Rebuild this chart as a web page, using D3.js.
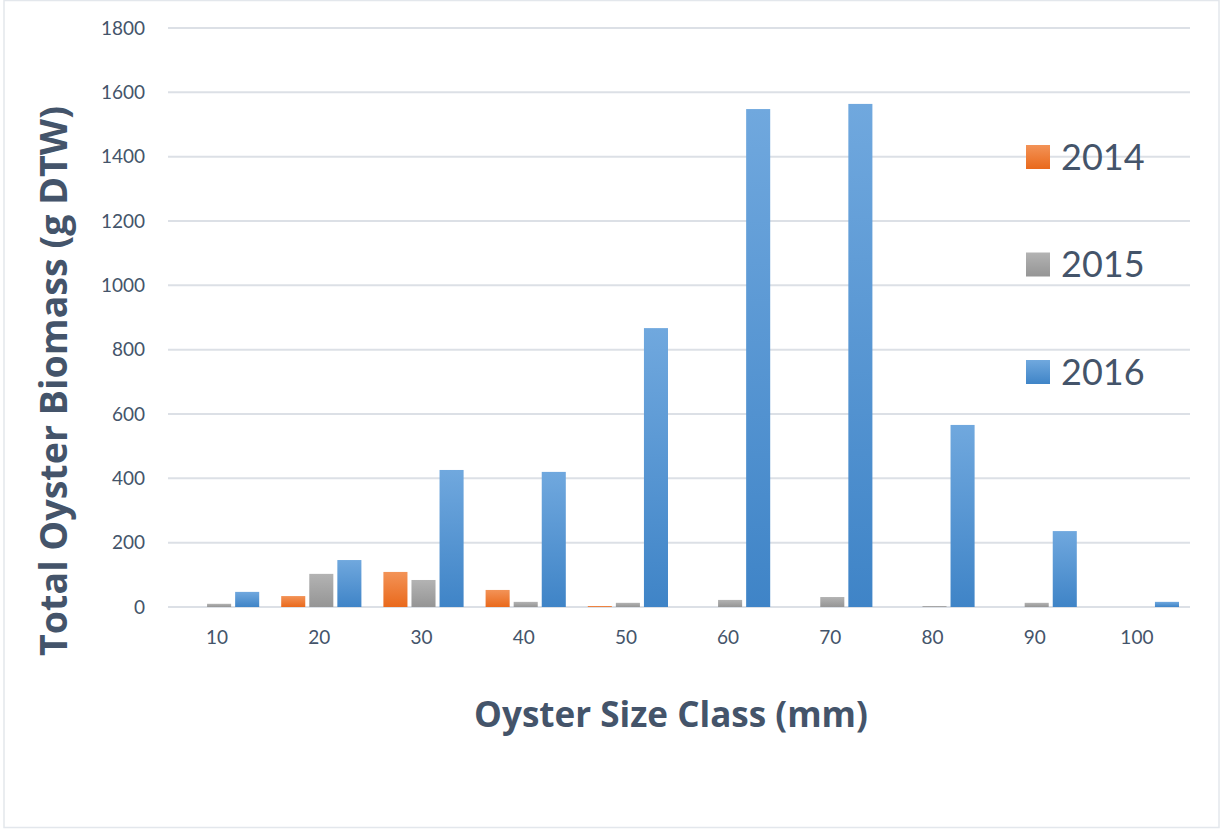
<!DOCTYPE html>
<html>
<head>
<meta charset="utf-8">
<script src="https://cdn.jsdelivr.net/npm/d3@7"></script>
<style>
  html, body { margin: 0; padding: 0; background: #fff; }
  svg { display: block; }
  text { font-family: Lato, "Open Sans", sans-serif; fill: #44546A; }
</style>
</head>
<body>
<svg id="chart" width="1230" height="829"></svg>
<script>
// Oyster size classes (mm)
const sizeClasses = ["10", "20", "30", "40", "50", "60", "70", "80", "90", "100"];
const years = ["2014", "2015", "2016"];
// Total biomass (g DTW) per size class
const biomass2014 = [0, 34, 109, 53, 3, 0, 0, 0, 0, 0];
const biomass2015 = [10, 103, 84, 16, 13, 22, 31, 3, 13, 0];
const biomass2016 = [47, 146, 426, 420, 867, 1548, 1564, 566, 236, 16];
const yTicks = [0, 200, 400, 600, 800, 1000, 1200, 1400, 1600, 1800];

const seriesValues = [biomass2014, biomass2015, biomass2016];
const rows = sizeClasses.map((c, i) => ({
  size: c,
  values: years.map((y, j) => ({ year: y, value: seriesValues[j][i] }))
}));

const svg = d3.select("#chart");
const plot = { left: 168, right: 1190, top: 28, bottom: 607 };

// outer frame
svg.append("rect")
  .attr("x", 4).attr("y", 0.5).attr("width", 1215).attr("height", 827)
  .attr("fill", "#fff").attr("stroke", "#E3E7EC").attr("stroke-width", 1.5);

// bar fills: lighter at top, darker at bottom
const grads = {
  "2014": ["#F39357", "#E9691C"],
  "2015": ["#B3B3B3", "#959595"],
  "2016": ["#70A8DE", "#3F84C7"]
};
const defs = svg.append("defs");
years.forEach(y => {
  const g = defs.append("linearGradient")
    .attr("id", "g" + y).attr("x1", 0).attr("y1", 0).attr("x2", 0).attr("y2", 1);
  g.append("stop").attr("offset", "0%").attr("stop-color", grads[y][0]);
  g.append("stop").attr("offset", "100%").attr("stop-color", grads[y][1]);
});

const x0 = d3.scaleBand().domain(sizeClasses).range([plot.left, plot.right]).padding(0);
const x1 = d3.scaleBand().domain(years).range([11, x0.bandwidth() - 11]).paddingInner(0.143);
const y = d3.scaleLinear().domain([0, 1800]).range([plot.bottom, plot.top]);

// gridlines
svg.append("g").selectAll("line").data(yTicks).join("line")
  .attr("x1", plot.left).attr("x2", plot.right)
  .attr("y1", d => y(d)).attr("y2", d => y(d))
  .attr("stroke", "#DCE0E6").attr("stroke-width", 2);

// y axis labels
const yAxis = d3.axisLeft(y).tickValues(yTicks).tickFormat(d3.format("d")).tickSize(0).tickPadding(0);
const gy = svg.append("g").attr("transform", "translate(145,0)").call(yAxis);
gy.select(".domain").remove();
gy.selectAll("text").style("font-size", "19px").attr("fill", "#44546A")
  .style("font-family", "Lato, sans-serif");

// x axis labels
const xAxis = d3.axisBottom(x0).tickSize(0).tickPadding(0);
const gx = svg.append("g").attr("transform", "translate(-2,630)").call(xAxis);
gx.select(".domain").remove();
gx.selectAll("text").style("font-size", "19px").attr("fill", "#44546A")
  .style("font-family", "Lato, sans-serif");

// bars
const groups = svg.append("g").selectAll("g").data(rows).join("g")
  .attr("transform", d => `translate(${x0(d.size)},0)`);
groups.selectAll("rect").data(d => d.values).join("rect")
  .attr("x", d => x1(d.year))
  .attr("width", x1.bandwidth())
  .attr("y", d => y(d.value))
  .attr("height", d => y(0) - y(d.value))
  .attr("fill", d => `url(#g${d.year})`);

// legend
const legend = svg.append("g").selectAll("g").data(years).join("g")
  .attr("transform", (d, i) => `translate(1026,${157 + i * 107.5})`);
legend.append("rect").attr("x", 0).attr("y", -12).attr("width", 24).attr("height", 24)
  .attr("fill", d => `url(#g${d})`);
legend.append("text").attr("x", 35).attr("y", 0).attr("dy", "0.36em")
  .style("font-size", "36px").text(d => d);

// axis titles, sized to a target width
function fitTitle(sel, width) {
  sel.style("font-size", "100px");
  const len = sel.node().getComputedTextLength();
  sel.style("font-size", (100 * width / len) + "px");
}
const yTitle = svg.append("text")
  .attr("transform", "translate(67,381) rotate(-90)")
  .attr("text-anchor", "middle")
  .style("font-family", "'Open Sans', sans-serif")
  .style("font-weight", "bold")
  .text("Total Oyster Biomass (g DTW)");
fitTitle(yTitle, 550);
const xTitle = svg.append("text")
  .attr("x", 671).attr("y", 727)
  .attr("text-anchor", "middle")
  .style("font-family", "'Open Sans', sans-serif")
  .style("font-weight", "bold")
  .text("Oyster Size Class (mm)");
fitTitle(xTitle, 394);
</script>
</body>
</html>
